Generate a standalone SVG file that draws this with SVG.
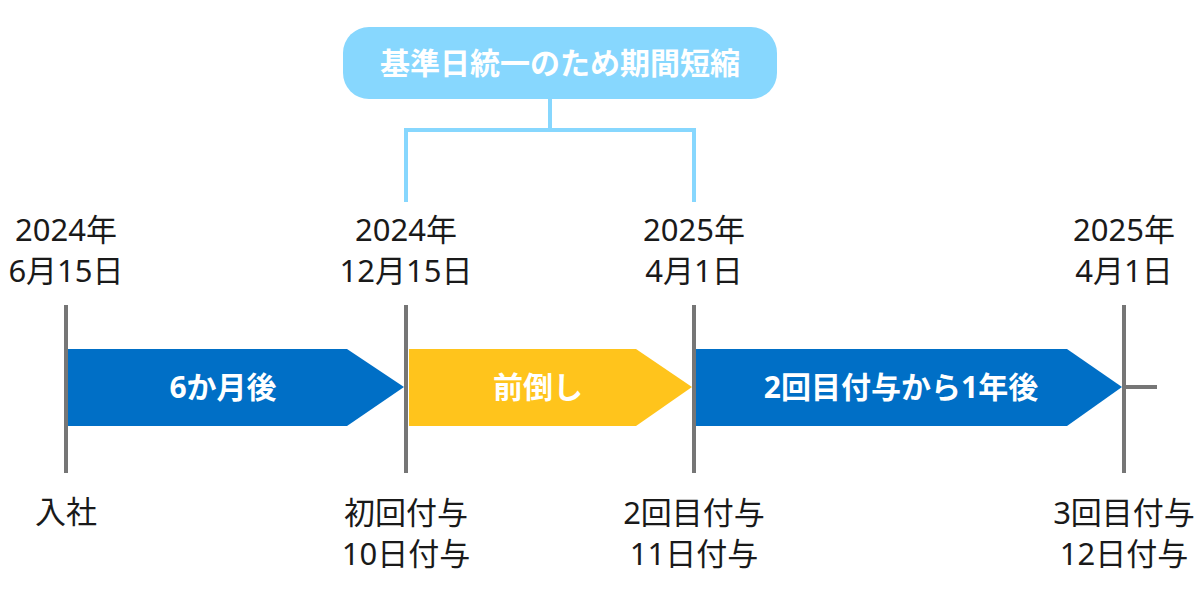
<svg xmlns="http://www.w3.org/2000/svg" width="1200" height="600" viewBox="0 0 1200 600">
<style>
.lbl{font-family:"Noto Sans","Noto Sans CJK JP",sans-serif;font-size:31px;fill:#1a1a1a;text-anchor:middle}
.in{font-family:"Noto Sans","Noto Sans CJK JP",sans-serif;font-size:30px;font-weight:bold;fill:#fff;text-anchor:middle}
.tick{stroke:#767676;stroke-width:4;fill:none}
.br{stroke:#87D7FE;stroke-width:4;fill:none}
</style>
<rect width="1200" height="600" fill="#fff"/>
<g id="connectors">
<polyline class="br" points="550,99 550,130"/>
<polyline class="br" points="406,202 406,130 694,130 694,202"/>
<line class="tick" x1="1124" y1="387" x2="1157" y2="387"/>
</g>
<g id="title">
<rect x="343" y="27" width="434" height="72" rx="26" fill="#87D7FE"/>
<text class="in" x="560" y="74" font-size="32">基準日統一のため期間短縮</text>
</g>
<g id="arrow1">
<polygon points="68,349 347,349 404,387 347,426 68,426" fill="#006FC6"/>
<text class="in" x="223" y="398">6か月後</text>
</g>
<g id="arrow2">
<polygon points="409,349 636,349 692,387 636,426 409,426" fill="#FFC41C"/>
<text class="in" x="538" y="398">前倒し</text>
</g>
<g id="arrow3">
<polygon points="696,349 1067,349 1122,387 1067,426 696,426" fill="#006FC6"/>
<text class="in" x="901" y="398">2回目付与から1年後</text>
</g>
<g id="t1">
<line class="tick" x1="66" y1="305" x2="66" y2="473"/>
<text class="lbl" x="66" y="241">2024年</text>
<text class="lbl" x="66" y="282">6月15日</text>
<text class="lbl" x="66" y="523">入社</text>
</g>
<g id="t2">
<line class="tick" x1="406" y1="305" x2="406" y2="473"/>
<text class="lbl" x="406" y="241">2024年</text>
<text class="lbl" x="406" y="282">12月15日</text>
<text class="lbl" x="406" y="524">初回付与</text>
<text class="lbl" x="406" y="565">10日付与</text>
</g>
<g id="t3">
<line class="tick" x1="694" y1="305" x2="694" y2="473"/>
<text class="lbl" x="694" y="241">2025年</text>
<text class="lbl" x="694" y="282">4月1日</text>
<text class="lbl" x="694" y="524">2回目付与</text>
<text class="lbl" x="694" y="565">11日付与</text>
</g>
<g id="t4">
<line class="tick" x1="1124" y1="305" x2="1124" y2="473"/>
<text class="lbl" x="1124" y="241">2025年</text>
<text class="lbl" x="1124" y="282">4月1日</text>
<text class="lbl" x="1124" y="524">3回目付与</text>
<text class="lbl" x="1124" y="565">12日付与</text>
</g>
</svg>
